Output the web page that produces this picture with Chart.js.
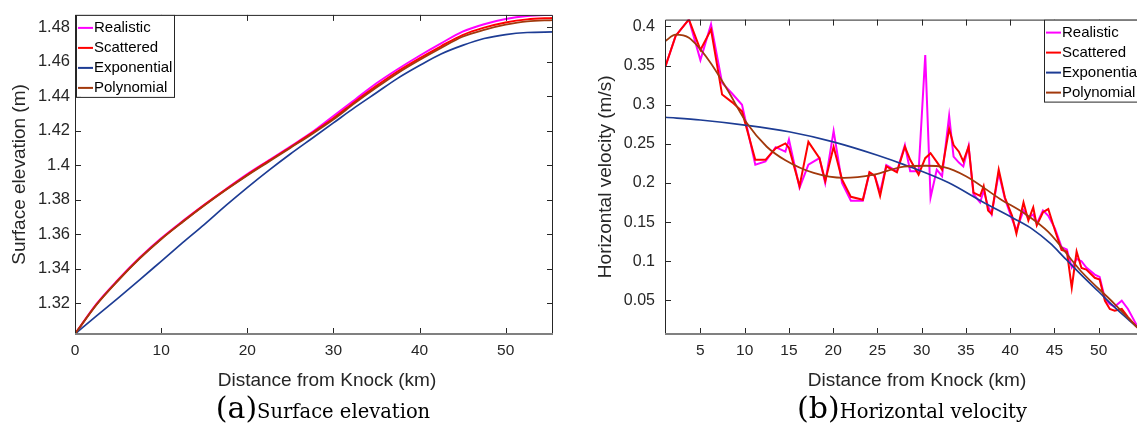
<!DOCTYPE html>
<html>
<head>
<meta charset="utf-8">
<script src="https://cdn.jsdelivr.net/npm/chart.js@4.4.1/dist/chart.umd.min.js"></script>
<style>
  html, body { margin: 0; padding: 0; background: #fff; overflow: hidden; }
  body { width: 1137px; height: 426px; position: relative; }
  canvas { position: absolute; top: 0; }
  #elevChart { left: 0; }
  #velChart { left: 590px; }
  .caption { position: absolute; top: 390px; font-family: "DejaVu Serif", serif; color: #000; white-space: nowrap; transform: translateX(-50%); }
  .caption .tag { font-size: 30px; }
  .caption .txt { font-size: 19.5px; }
</style>
</head>
<body>
<canvas id="elevChart" width="562" height="400"></canvas>
<canvas id="velChart" width="555" height="400"></canvas>
<div class="caption" style="left:323px"><span class="tag">(a)</span><span class="txt">Surface elevation</span></div>
<div class="caption" style="left:912px"><span class="tag">(b)</span><span class="txt">Horizontal velocity</span></div>
<script>
// --- (a) surface elevation ---
const elevDist = [0, 2.5, 5, 7.5, 10, 12.5, 15, 17.5, 20, 22.5, 25, 27.5, 30, 32.5, 35, 37.5, 40, 42.5, 45, 47.5, 50, 52.5, 55.5];
const elevRealistic = [1.302, 1.3195, 1.3335, 1.3462, 1.3575, 1.3675, 1.377, 1.386, 1.3948, 1.4028, 1.4108, 1.419, 1.4285, 1.438, 1.4475, 1.4558, 1.4635, 1.4707, 1.4775, 1.4818, 1.4848, 1.4866, 1.4874];
const elevScattered = [1.302, 1.3192, 1.3332, 1.346, 1.3572, 1.3672, 1.3768, 1.3858, 1.3944, 1.4025, 1.4104, 1.4186, 1.4272, 1.4368, 1.446, 1.4545, 1.462, 1.469, 1.4755, 1.4798, 1.4828, 1.4846, 1.4854];
const elevExponential = [1.302, 1.3125, 1.3228, 1.3334, 1.3442, 1.355, 1.3655, 1.3765, 1.387, 1.397, 1.4065, 1.4155, 1.4245, 1.4335, 1.442, 1.4505, 1.4578, 1.4645, 1.4695, 1.4735, 1.4758, 1.477, 1.4773];
const elevPolynomial = [1.302, 1.319, 1.333, 1.3457, 1.357, 1.367, 1.3765, 1.3855, 1.394, 1.402, 1.41, 1.418, 1.4265, 1.436, 1.445, 1.4535, 1.461, 1.468, 1.4745, 1.4785, 1.4815, 1.4835, 1.4842];
const elevXTicks = [0, 10, 20, 30, 40, 50];
const elevYTicks = [1.32, 1.34, 1.36, 1.38, 1.4, 1.42, 1.44, 1.46, 1.48];

// --- (b) horizontal velocity ---
const velDist = [1.05, 2.2, 3.7, 5.0, 6.2, 7.45, 8.6, 9.7, 11.2, 12.35, 13.5, 14.6, 15.0, 16.2, 17.2, 18.45, 19.1, 20.05, 21.0, 22.0, 23.35, 24.1, 24.7, 25.3, 26.0, 27.2, 28.1, 28.7, 29.65, 30.4, 31.0, 31.7, 32.3, 33.1, 33.6, 34.2, 34.7, 35.3, 35.85, 36.6, 37.0, 37.5, 37.9, 38.7, 39.4, 40.2, 40.7, 41.5, 42.05, 42.6, 43.0, 43.7, 44.3, 45.05, 45.8, 46.4, 46.95, 47.5, 48.05, 48.6, 49.55, 50.1, 50.7, 51.25, 51.8, 52.6, 53.3, 54.3, 55];
const velRealistic = [0.349, 0.388, 0.409, 0.357, 0.403, 0.328, 0.314, 0.2999, 0.2233, 0.2275, 0.2458, 0.24, 0.2555, 0.194, 0.2233, 0.2317, 0.2, 0.2665, 0.2, 0.1773, 0.1773, 0.213, 0.209, 0.188, 0.223, 0.215, 0.2484, 0.215, 0.215, 0.3636, 0.1814, 0.217, 0.2087, 0.286, 0.2337, 0.226, 0.2212, 0.2475, 0.1856, 0.1751, 0.19, 0.17, 0.16, 0.2128, 0.18, 0.154, 0.1396, 0.165, 0.155, 0.16, 0.148, 0.165, 0.158, 0.142, 0.118, 0.115, 0.092, 0.103, 0.1, 0.092, 0.083, 0.08, 0.052, 0.045, 0.042, 0.0495, 0.039, 0.018, 0.012];
const velScattered = [0.349, 0.388, 0.409, 0.37, 0.396, 0.313, 0.303, 0.2915, 0.2296, 0.2296, 0.2442, 0.2505, 0.245, 0.196, 0.2526, 0.2317, 0.2024, 0.2463, 0.2044, 0.1823, 0.1785, 0.2137, 0.209, 0.1835, 0.2212, 0.2137, 0.2463, 0.2296, 0.2107, 0.2317, 0.238, 0.227, 0.217, 0.2693, 0.2484, 0.24, 0.2275, 0.2463, 0.1877, 0.1835, 0.1961, 0.1647, 0.1604, 0.217, 0.1814, 0.1584, 0.1353, 0.1751, 0.1521, 0.1688, 0.1458, 0.1626, 0.1667, 0.1396, 0.1144, 0.1123, 0.0662, 0.1123, 0.0913, 0.0893, 0.0788, 0.0767, 0.0495, 0.039, 0.0369, 0.039, 0.0285, 0.016, 0.01];
const expDist = [1, 5, 10, 15, 20, 25, 28, 33, 37, 40.5, 42.5, 44.5, 46, 48, 50, 52, 54.3, 55];
const velExponential = [0.284, 0.2805, 0.274, 0.2655, 0.2526, 0.2355, 0.2235, 0.2005, 0.175, 0.154, 0.141, 0.123, 0.106, 0.083, 0.061, 0.039, 0.016, 0.009];
const polyDist = [1, 2.2, 3.7, 6, 8, 10.3, 12.5, 14.6, 17.8, 21.2, 24.6, 28, 30.5, 32.5, 35, 38.9, 41.7, 44.3, 48, 51.8, 54.3, 55];
const velPolynomial = [0.381, 0.3895, 0.3855, 0.356, 0.32, 0.2756, 0.2463, 0.229, 0.2128, 0.2065, 0.2107, 0.221, 0.222, 0.2203, 0.2087, 0.1793, 0.1604, 0.1374, 0.0872, 0.0453, 0.016, 0.008];
const velXTicks = [5, 10, 15, 20, 25, 30, 35, 40, 45, 50];
const velYTicks = [0.05, 0.1, 0.15, 0.2, 0.25, 0.3, 0.35, 0.4];

const FONT = "'Liberation Sans', Arial, Helvetica, sans-serif";
const INK = '#262626';
const COLORS = { realistic: '#ff00ff', scattered: '#ff0000', exponential: '#1d3c94', polynomial: '#a2390c' };
const X_TITLE = 'Distance from Knock (km)';

const pts = (xs, ys) => xs.map((x, i) => ({ x: x, y: ys[i] }));

// box + inward ticks on all four sides (matlab "box on"), and the x label
// which sits a bit right of the plot centre in the original figure
const matlabAxes = {
    id: 'matlabAxes',
    afterDatasetsDraw(chart, args, opts) {
        const { ctx, chartArea: a, scales: { x, y } } = chart;
        const tl = 6;
        ctx.save();
        ctx.strokeStyle = INK;
        ctx.lineWidth = 1;
        ctx.beginPath();
        x.ticks.forEach(t => {
            const px = Math.round(x.getPixelForValue(t.value)) + 0.5;
            ctx.moveTo(px, a.bottom); ctx.lineTo(px, a.bottom - tl);
            ctx.moveTo(px, a.top); ctx.lineTo(px, a.top + tl);
        });
        y.ticks.forEach(t => {
            const py = Math.round(y.getPixelForValue(t.value)) + 0.5;
            ctx.moveTo(a.left, py); ctx.lineTo(a.left + tl, py);
            ctx.moveTo(a.right, py); ctx.lineTo(a.right - tl, py);
        });
        ctx.stroke();
        ctx.beginPath();
        ctx.moveTo(a.left + 0.5, a.bottom); ctx.lineTo(a.left + 0.5, a.top + 0.5);
        ctx.lineTo(a.right - 0.5, a.top + 0.5); ctx.lineTo(a.right - 0.5, a.bottom);
        ctx.stroke();
        ctx.strokeStyle = '#808080';
        ctx.lineWidth = 2;
        ctx.beginPath();
        ctx.moveTo(a.left, a.bottom); ctx.lineTo(a.right, a.bottom);
        ctx.stroke();

        ctx.fillStyle = INK;
        ctx.font = '19px ' + FONT;
        ctx.textAlign = 'center';
        ctx.textBaseline = 'middle';
        ctx.fillText(opts.xTitle, (a.left + a.right) / 2 + opts.xTitleShift, 381);
        ctx.restore();
    }
};

// legend drawn inside the plot with a border
const boxLegend = {
    id: 'boxLegend',
    afterDatasetsDraw(chart, args, opts) {
        const { ctx, chartArea } = chart;
        const w = 98, h = 82, rowH = 20;
        const x0 = opts.side === 'right' ? chartArea.right - w - 1 : chartArea.left + 1;
        const y0 = chartArea.top;
        ctx.save();
        ctx.fillStyle = '#fff';
        ctx.fillRect(x0, y0, w, h);
        ctx.strokeStyle = INK;
        ctx.lineWidth = 1;
        ctx.strokeRect(x0 + 0.5, y0 + 0.5, w, h);
        ctx.font = '15px ' + FONT;
        ctx.textBaseline = 'middle';
        chart.data.datasets.forEach((ds, i) => {
            const y = y0 + 13 + i * rowH;
            ctx.strokeStyle = ds.borderColor;
            ctx.lineWidth = 2;
            ctx.beginPath();
            ctx.moveTo(x0 + 2, y);
            ctx.lineTo(x0 + 17, y);
            ctx.stroke();
            ctx.fillStyle = '#000';
            ctx.fillText(ds.label, x0 + 18, y);
        });
        ctx.restore();
    }
};

function makeDatasets(real, scat, expo, poly, noisy) {
    const base = { pointRadius: 0, fill: false };
    const mode = noisy ? 'default' : 'monotone';
    return [
        { ...base, label: 'Realistic', data: real, borderColor: COLORS.realistic, borderWidth: 2, order: 3, tension: 0, cubicInterpolationMode: mode },
        { ...base, label: 'Scattered', data: scat, borderColor: COLORS.scattered, borderWidth: 2, order: 2, tension: 0, cubicInterpolationMode: mode },
        { ...base, label: 'Exponential', data: expo, borderColor: COLORS.exponential, borderWidth: 1.7, order: 1, cubicInterpolationMode: 'monotone' },
        { ...base, label: 'Polynomial', data: poly, borderColor: COLORS.polynomial, borderWidth: 1.8, order: 0, cubicInterpolationMode: 'monotone' }
    ];
}

function makeOptions(cfg) {
    return {
        responsive: false,
        animation: false,
        layout: { padding: { top: 14, right: cfg.padRight, left: 0, bottom: 0 } },
        plugins: {
            legend: { display: false },
            tooltip: { enabled: false },
            boxLegend: { side: cfg.legendSide },
            matlabAxes: { xTitle: X_TITLE, xTitleShift: 13 }
        },
        scales: {
            x: {
                type: 'linear',
                min: cfg.xMin,
                max: cfg.xMax,
                afterBuildTicks: s => { s.ticks = cfg.xTicks.map(v => ({ value: v })); },
                afterFit: s => { s.height = 66; },
                grid: { display: false, drawTicks: false },
                border: { display: false },
                ticks: { font: { family: FONT, size: 15.5 }, color: INK, padding: 7, maxRotation: 0, autoSkip: false, callback: v => String(v) },
                title: { display: false }
            },
            y: {
                type: 'linear',
                min: cfg.yMin,
                max: cfg.yMax,
                afterBuildTicks: s => { s.ticks = cfg.yTicks.map(v => ({ value: v })); },
                afterFit: s => { s.width = 75; },
                grid: { display: false, drawTicks: false },
                border: { display: false },
                ticks: { font: { family: FONT, size: cfg.yTickSize }, color: INK, padding: cfg.yPad, autoSkip: false, callback: v => String(v) },
                title: { display: true, text: cfg.yTitle, font: { family: FONT, size: 19 }, color: INK, padding: { top: cfg.yTitlePad, bottom: 0 } }
            }
        }
    };
}

const elevChart = new Chart(document.getElementById('elevChart'), {
    type: 'line',
    data: {
        datasets: makeDatasets(
            pts(elevDist, elevRealistic), pts(elevDist, elevScattered),
            pts(elevDist, elevExponential), pts(elevDist, elevPolynomial), false)
    },
    options: makeOptions({
        xMin: 0, xMax: 55.5, xTicks: elevXTicks,
        yMin: 1.302, yMax: 1.4872, yTicks: elevYTicks, yTickSize: 16.5,
        yTitle: 'Surface elevation (m)', yPad: 5, yTitlePad: 8,
        padRight: 9, legendSide: 'left'
    }),
    plugins: [matlabAxes, boxLegend]
});

const velChart = new Chart(document.getElementById('velChart'), {
    type: 'line',
    data: {
        datasets: makeDatasets(
            pts(velDist, velRealistic), pts(velDist, velScattered),
            pts(expDist, velExponential), pts(polyDist, velPolynomial), true)
    },
    options: makeOptions({
        xMin: 1, xMax: 55, xTicks: velXTicks,
        yMin: 0.007, yMax: 0.4088, yTicks: velYTicks, yTickSize: 16,
        yTitle: 'Horizontal velocity (m/s)', yPad: 10, yTitlePad: 4,
        padRight: 2, legendSide: 'right'
    }),
    plugins: [matlabAxes, boxLegend]
});
</script>
</body>
</html>
